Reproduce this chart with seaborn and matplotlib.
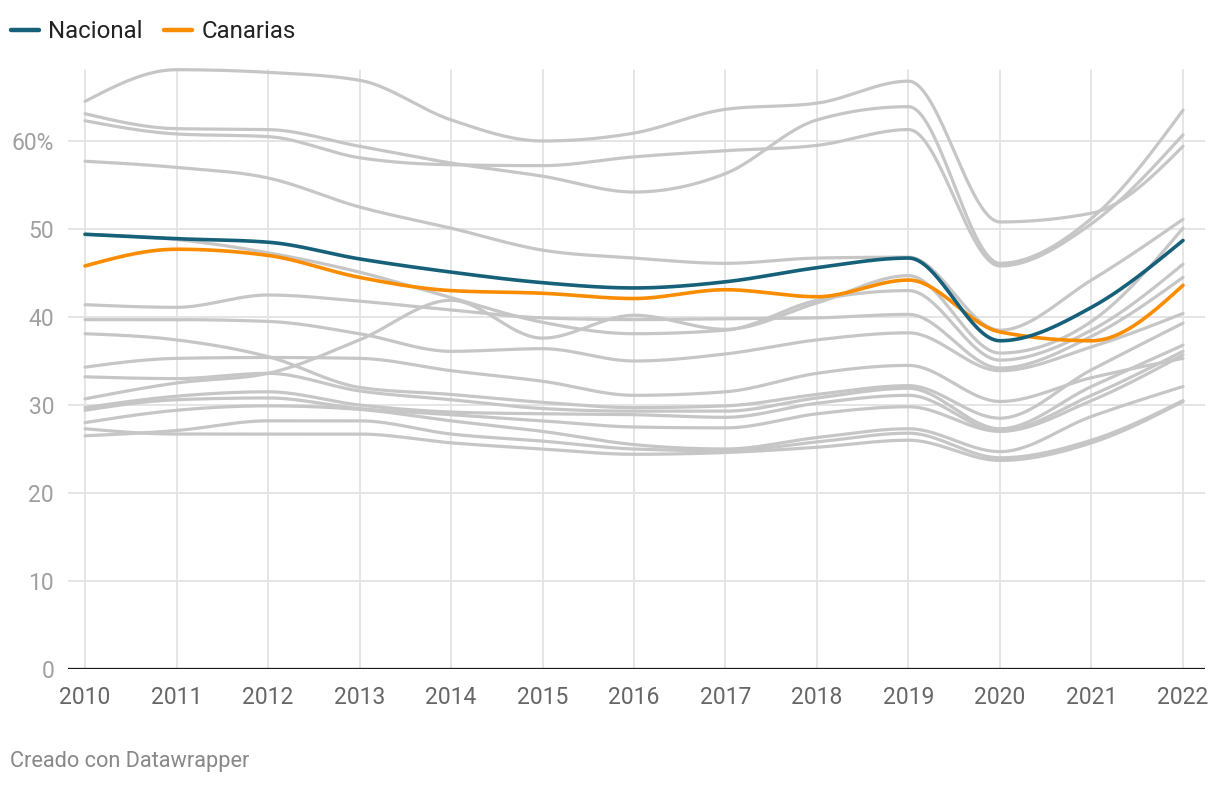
import matplotlib
matplotlib.use("Agg")
import matplotlib.pyplot as plt
import numpy as np
import pandas as pd
import seaborn as sns

years = list(range(2010, 2023))

nacional = [49.4, 48.9, 48.5, 46.6, 45.1, 43.9, 43.3, 44.0, 45.6, 46.7, 37.3, 41.1, 48.7]
canarias = [45.8, 47.7, 47.0, 44.5, 43.0, 42.7, 42.1, 43.1, 42.3, 44.2, 38.3, 37.3, 43.6]

# other regions (grey background lines)
regions = {
    "r01": [64.5, 68.1, 67.8, 66.9, 62.4, 60.0, 60.9, 63.6, 64.3, 66.8, 50.8, 51.8, 59.4],
    "r02": [63.1, 61.4, 61.3, 59.4, 57.5, 56.0, 54.2, 56.3, 62.4, 63.9, 46.1, 51.2, 63.5],
    "r03": [62.3, 60.8, 60.5, 58.1, 57.3, 57.2, 58.2, 58.9, 59.5, 61.3, 45.8, 50.6, 60.7],
    "r04": [57.7, 57.0, 55.8, 52.5, 50.1, 47.6, 46.7, 46.1, 46.7, 46.8, 38.5, 44.2, 51.1],
    "r05": [49.4, 48.8, 47.3, 45.1, 42.2, 39.4, 38.1, 38.5, 41.9, 43.0, 35.1, 38.5, 46.0],
    "r06": [41.4, 41.1, 42.5, 41.8, 40.8, 39.9, 39.7, 39.8, 39.9, 40.3, 34.2, 37.8, 44.5],
    "r07": [39.7, 39.7, 39.5, 38.1, 36.1, 36.4, 35.0, 35.8, 37.4, 38.2, 33.9, 36.6, 40.4],
    "r08": [30.7, 32.5, 33.6, 37.4, 41.9, 37.6, 40.2, 38.6, 41.6, 44.7, 35.9, 39.5, 50.1],
    "r09": [34.3, 35.3, 35.4, 35.3, 33.9, 32.7, 31.1, 31.5, 33.6, 34.5, 30.4, 33.1, 35.3],
    "r10": [38.1, 37.4, 35.5, 32.0, 31.2, 30.3, 29.7, 29.9, 31.2, 32.2, 28.5, 34.0, 39.3],
    "r11": [33.2, 33.0, 33.6, 31.6, 30.6, 29.6, 29.3, 29.3, 30.8, 31.9, 27.3, 32.1, 36.8],
    "r12": [29.7, 31.0, 31.5, 30.0, 29.2, 29.0, 28.9, 28.6, 30.2, 31.1, 27.1, 31.1, 36.1],
    "r13": [29.4, 30.6, 30.8, 29.6, 28.9, 28.2, 27.5, 27.4, 29.0, 29.8, 27.0, 30.5, 35.7],
    "r14": [28.0, 29.4, 29.9, 29.5, 28.2, 27.0, 25.5, 25.0, 26.3, 27.3, 24.7, 28.7, 32.1],
    "r15": [26.5, 27.1, 28.2, 28.2, 26.7, 25.9, 25.0, 24.8, 25.8, 26.8, 24.0, 26.0, 30.5],
    "r16": [27.3, 26.7, 26.7, 26.7, 25.7, 25.0, 24.4, 24.6, 25.2, 26.0, 23.7, 25.7, 30.4],
}

y_ticks = [0, 10, 20, 30, 40, 50, 60]
y_labels = ["0", "10", "20", "30", "40", "50", "60%"]

GREY = "#c6c6c6"
BLUE = "#16607a"
ORANGE = "#fa8c00"


def monotone_curve(xs, ys, n=40):
    """Monotone-x cubic curve (same rule as d3.curveMonotoneX) for drawing."""
    xs = np.asarray(xs, float)
    ys = np.asarray(ys, float)
    h = np.diff(xs)
    s = np.diff(ys) / h
    m = np.zeros_like(ys)
    for i in range(1, len(ys) - 1):
        p = (s[i - 1] * h[i] + s[i] * h[i - 1]) / (h[i - 1] + h[i])
        sg = (1 if s[i - 1] >= 0 else -1) + (1 if s[i] >= 0 else -1)
        m[i] = sg * min(abs(s[i - 1]), abs(s[i]), 0.5 * abs(p))
    m[0] = (3 * s[0] - m[1]) / 2
    m[-1] = (3 * s[-1] - m[-2]) / 2
    out_x, out_y = [], []
    for i in range(len(xs) - 1):
        t = np.linspace(0, 1, n, endpoint=(i == len(xs) - 2))
        h00 = 2 * t**3 - 3 * t**2 + 1
        h10 = t**3 - 2 * t**2 + t
        h01 = -2 * t**3 + 3 * t**2
        h11 = t**3 - t**2
        out_x.append(xs[i] + t * h[i])
        out_y.append(h00 * ys[i] + h10 * h[i] * m[i] + h01 * ys[i + 1] + h11 * h[i] * m[i + 1])
    return np.concatenate(out_x), np.concatenate(out_y)


sns.set_theme(style="white")
plt.rcParams["font.family"] = ["Roboto", "DejaVu Sans"]

fig = plt.figure(figsize=(12.2, 7.86), dpi=100)
W, H = 1220, 786
ax = fig.add_axes([68 / W, (H - 669) / H, (1205 - 68) / W, (669 - 66) / H])

px_per_year = (1183 - 85) / 12
ax.set_xlim(2010 - 17 / px_per_year, 2022 + 22 / px_per_year)
ax.set_ylim(0, (669 - 66) / 8.8)

# grid
for yv in y_ticks[1:]:
    ax.axhline(yv, color="#e5e5e5", lw=1.4, zorder=0)
for yr in years:
    ax.axvline(yr, ymax=(669 - 70) / (669 - 66), color="#e5e5e5", lw=1.4, zorder=0)
ax.axhline(0, color="#1a1a1a", lw=1.6, zorder=5)

for name, vals in regions.items():
    cx, cy = monotone_curve(years, vals)
    sns.lineplot(x=cx, y=cy, ax=ax, color=GREY, lw=2.3, sort=False, estimator=None, zorder=2)

cx, cy = monotone_curve(years, nacional)
sns.lineplot(x=cx, y=cy, ax=ax, color=BLUE, lw=2.6, sort=False, estimator=None, zorder=4)
cx, cy = monotone_curve(years, canarias)
sns.lineplot(x=cx, y=cy, ax=ax, color=ORANGE, lw=2.6, sort=False, estimator=None, zorder=3)

for sp in ax.spines.values():
    sp.set_visible(False)

ax.set_xticks(years)
ax.set_xticklabels([str(y) for y in years], fontsize=16.5, color="#666666")
ax.set_yticks(y_ticks)
ax.set_yticklabels(y_labels, fontsize=16.5, color="#a0a0a0")
ax.tick_params(axis="x", length=0, pad=12)
ax.tick_params(axis="y", length=0, pad=10)
ax.set_xlabel("")
ax.set_ylabel("")

handles = [
    plt.Line2D([], [], color=BLUE, lw=3.2, solid_capstyle="round"),
    plt.Line2D([], [], color=ORANGE, lw=3.2, solid_capstyle="round"),
]
fig.legend(handles, ["Nacional", "Canarias"], loc="center left", bbox_to_anchor=(11 / W, 1 - 32 / H),
           ncol=2, frameon=False, fontsize=17.3, handlelength=1.15, handletextpad=0.4,
           columnspacing=0.9, borderpad=0, borderaxespad=0, labelcolor="#222222")

fig.text(10 / W, 1 - 762 / H, "Creado con Datawrapper", fontsize=15.7, color="#888888",
         va="center", ha="left")

fig.savefig("out.png", dpi=100)
